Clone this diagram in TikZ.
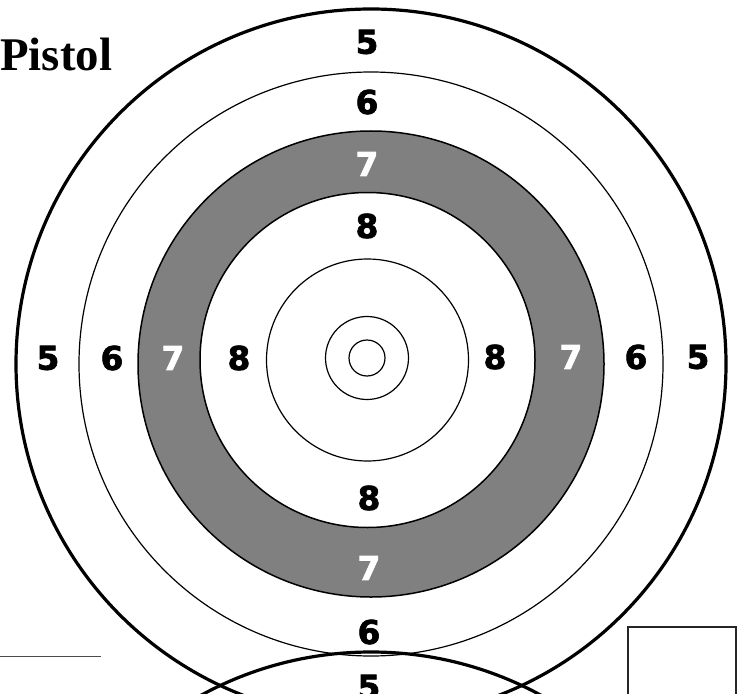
\documentclass[tikz,border=0pt]{standalone}
\usepackage{fontspec}
\setmainfont{Liberation Serif}
\newfontfamily\ringfont[BoldFeatures={FakeBold=2}]{DejaVu Sans}
\begin{document}
\begin{tikzpicture}[x=1bp,y=-1bp]

        \tikzset{every node/.style={inner sep=0pt},
                 score/.style={font=\ringfont\bfseries\fontsize{33}{33}\selectfont},
                 grayscore/.style={score, text=white},
                 thickring/.style={line width=3.2bp},
                 thinring/.style={line width=1.2bp},
                 grayring/.style={line width=1.5bp}}

        \useasboundingbox (0,0) rectangle (741,694);
        \clip (0,0) rectangle (741,694);

        % centres of the rings
        \coordinate (o) at (371,364);
        \coordinate (i) at (367.5,360);
        \coordinate (c) at (367,358);

        % the gray 7 ring
        \fill[black!50, even odd rule] (o) circle (233) (i) circle (167.5);
        \draw[grayring] (o) circle (233);
        \draw[grayring] (i) circle (167.5);

        % outer rings
        \draw[thickring] (o) circle (355);
        \draw[thinring] (o) circle (292);

        % inner rings
        \draw[thinring] (i) circle (101);
        \draw[thinring] (c) circle (41.5);
        \draw[thinring] (c) circle (18);

        % next target, below
        \coordinate (o2) at (371,1007);
        \draw[thickring] (o2) circle (355);

        % scores above
        \node[score] (t5) at (367,42) {5};
        \node[score] (t6) at (367,102) {6};
        \node[grayscore] (t7) at (367,164) {7};
        \node[score] (t8) at (367,226) {8};

        % scores below
        \node[score] (b8) at (369,498) {8};
        \node[grayscore] (b7) at (369,568) {7};
        \node[score] (b6) at (369,632) {6};
        \node[score] (b5) at (369,687) {5};

        % scores on the left
        \node[score] (l5) at (48,358) {5};
        \node[score] (l6) at (112,358) {6};
        \node[grayscore] (l7) at (173,358) {7};
        \node[score] (l8) at (239,358) {8};

        % scores on the right
        \node[score] (r8) at (495,357) {8};
        \node[grayscore] (r7) at (571,357) {7};
        \node[score] (r6) at (636,357) {6};
        \node[score] (r5) at (698,357) {5};

        % title and margin marks
        \node[anchor=base west, font=\bfseries\fontsize{47}{47}\selectfont] (title) at (0,71) {Pistol};
        \draw[black!70, line width=1bp] (0,656) -- (101,656);
        \draw[black!85, line width=1.5bp] (628,627) rectangle (736,720);

    \end{tikzpicture}
\end{document}
